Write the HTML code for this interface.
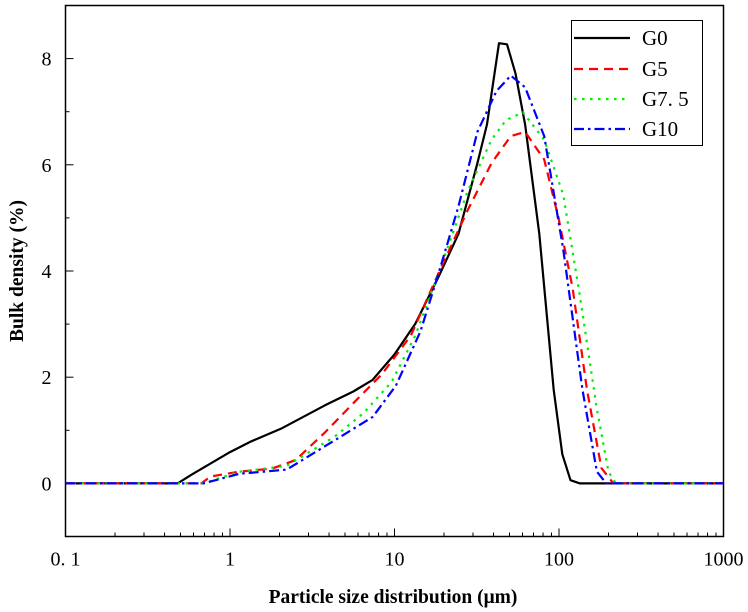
<!DOCTYPE html>
<html><head><meta charset="utf-8">
<style>
html,body{margin:0;padding:0;background:#fff;}
svg{display:block;font-family:"Liberation Serif","Noto Serif CJK SC",serif;}
</style></head>
<body>
<svg id="chart" width="748" height="612" viewBox="0 0 748 612" xmlns="http://www.w3.org/2000/svg">
<rect x="65.5" y="5.5" width="658" height="531" fill="none" stroke="#000" stroke-width="1.5"/>
<g id="ticks"></g>
<g id="series"></g>
<text x="393" y="603" text-anchor="middle" font-size="19.5" font-weight="bold">Particle size distribution (μm)</text>
<text transform="translate(23,271) rotate(-90)" text-anchor="middle" font-size="19.5" font-weight="bold">Bulk density (%)</text>
<g>
<rect x="571.5" y="20.5" width="131" height="125" fill="#fff" stroke="#000" stroke-width="1"/>
<g id="legend-items"></g>
</g>
</svg>
<script>
const xTicks = [0.1, 1, 10, 100, 1000];
const xTickLabels = ["0. 1", "1", "10", "100", "1000"];
const yTicks = [0, 2, 4, 6, 8];
const yTickLabels = ["0", "2", "4", "6", "8"];
const seriesNames = ["G0", "G5", "G7.5", "G10"];
const g0X = [0.1,0.48,0.58,1.0,1.34,2.07,3.78,5.62,7.36,10,13.4,18.6,24.5,31.9,36.5,43.2,48.3,54.4,62.2,75.9,92.9,104.7,117.5,134,1000];
const g0Y = [0,0,0.16,0.59,0.79,1.04,1.47,1.73,1.95,2.43,3.01,3.9,4.7,6.03,6.76,8.29,8.27,7.72,6.76,4.7,1.76,0.55,0.06,0,0];
const g5X = [0.1,0.67,0.76,1.14,1.81,2.51,3.78,5.62,8.41,12.6,18.6,27.9,38.9,50.9,62.2,81.3,99.3,121,148,181,214,1000];
const g5Y = [0,0,0.13,0.22,0.28,0.44,0.96,1.51,2.06,2.79,3.97,5.15,6.03,6.54,6.62,6.1,5.0,3.68,1.76,0.29,0,0];
const g75X = [0.1,0.69,1.14,2.21,4.32,6.46,9.6,13.4,18.6,27.9,38.9,47.6,60.3,81.3,106,134,170,200,221,1000];
const g75Y = [0,0,0.22,0.33,0.88,1.32,1.91,2.79,3.97,5.51,6.47,6.84,6.99,6.47,5.44,3.53,1.4,0.22,0,0];
const g10X = [0.1,0.69,1.14,2.21,4.32,7.36,10.2,14.4,18.6,24.5,31.9,41.7,50.9,62.2,81.3,106,139,170,194,1000];
const g10Y = [0,0,0.18,0.26,0.81,1.25,1.84,2.87,3.97,5.22,6.62,7.39,7.68,7.46,6.54,4.41,1.76,0.22,0,0];

const L=65.5,R=723.5,T=5.5,B=536.5, yMin=-1,yMax=9, xMinL=-1,xMaxL=3;
function xs(v){return L+(Math.log10(v)-xMinL)/(xMaxL-xMinL)*(R-L);}
function ys(v){return B-(v-yMin)/(yMax-yMin)*(B-T);}
const NS="http://www.w3.org/2000/svg";
function mk(tag,attrs,parent){const e=document.createElementNS(NS,tag);for(const k in attrs)e.setAttribute(k,attrs[k]);parent.appendChild(e);return e;}
const tg=document.getElementById('ticks');
for(let d=-1;d<3;d++){for(let m=1;m<10;m++){const v=m*Math.pow(10,d);const x=xs(v);const len=m===1?8:4;
 const t=mk('line',{x1:x,x2:x,y1:B,y2:B-len,stroke:'#000','stroke-width':1},tg);
 
 }}
xTicks.forEach((v,i)=>{const t=mk('text',{x:xs(v),y:B+29,'text-anchor':'middle','font-size':20},tg);t.textContent=xTickLabels[i];
 
 });
for(let v=-1;v<=9;v++){const y=ys(v);const major=v%2===0;
 const t=mk('line',{x1:L,x2:L+(major?8:4),y1:y,y2:y,stroke:'#000','stroke-width':1},tg);
 
 }
yTicks.forEach((v,i)=>{const t=mk('text',{x:L-14,y:ys(v)+7,'text-anchor':'end','font-size':20},tg);t.textContent=yTickLabels[i];
 
 });
const styles=[{c:'#000',d:''},{c:'#ff0000',d:'9,6'},{c:'#00ee00',d:'2.5,5.5'},{c:'#0000ff',d:'10,4,2.5,4'}];
const data=[[g0X,g0Y],[g5X,g5Y],[g75X,g75Y],[g10X,g10Y]];
const sg=document.getElementById('series');
data.forEach((s,i)=>{const pts=s[0].map((x,j)=>xs(x).toFixed(1)+','+ys(s[1][j]).toFixed(1)).join(' ');
 const p=mk('polyline',{points:pts,fill:'none',stroke:styles[i].c,'stroke-width':2.2,'stroke-dasharray':styles[i].d,'stroke-linejoin':'round'},sg);
 
 });
const lg=document.getElementById('legend-items');
const ly=[38,69,99,129];
seriesNames.forEach((n,i)=>{const l=mk('line',{x1:574,x2:630,y1:ly[i],y2:ly[i],stroke:styles[i].c,'stroke-width':2.2,'stroke-dasharray':styles[i].d},lg);
 
 
 const t=mk('text',{x:642,y:ly[i]+7,'font-size':21},lg);t.textContent=n==='G7.5'?'G7. 5':n;
 
 });
</script>
</body></html>
